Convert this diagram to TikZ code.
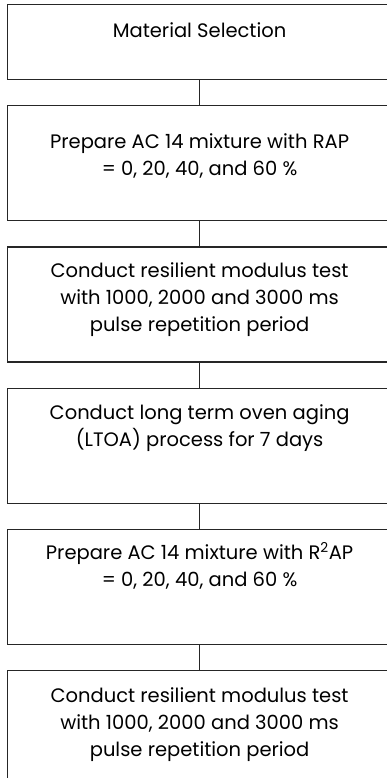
\documentclass[tikz,border=0pt]{standalone}
\usepackage{fontspec}
\setmainfont{Poppins}
\usetikzlibrary{positioning}
% box body: height, gap above the text, text
\newcommand{\boxtext}[3]{\parbox[c][#1][t]{384pt}{\centering\vspace{#2}#3}}

\begin{document}
\begin{tikzpicture}[
  x=1pt, y=1pt,
  node distance=25pt,
  box/.style={draw=black!85, line width=1.2pt, inner sep=0pt, font=\fontsize{19.5}{27}\selectfont},
  link/.style={draw=black!85, line width=1.2pt}]
  \useasboundingbox (0,0) rectangle (387,-778);
  \clip (0,0) rectangle (387,-778);
  \node[box, anchor=north west] (sel) at (7,-4) {\boxtext{75pt}{18pt}{Material Selection}};
  \node[box, below=of sel] (rap) {\boxtext{115pt}{28pt}{Prepare AC 14 mixture with RAP\\= 0, 20, 40, and 60 \%}};
  \node[box, below=of rap] (mr1) {\boxtext{115pt}{16pt}{Conduct resilient modulus test\\with 1000, 2000 and 3000 ms\\pulse repetition period}};
  \node[box, below=of mr1] (ltoa) {\boxtext{115pt}{16pt}{Conduct long term oven aging\\(LTOA) process for 7 days}};
  \node[box, below=of ltoa] (rrap) {\boxtext{115pt}{13pt}{Prepare AC 14 mixture with R\textsuperscript{2}AP\\= 0, 20, 40, and 60 \%}};
  \node[box, below=of rrap] (mr2) {\boxtext{115pt}{17pt}{Conduct resilient modulus test\\with 1000, 2000 and 3000 ms\\pulse repetition period}};
  \foreach \a/\b in {sel/rap,rap/mr1,mr1/ltoa,ltoa/rrap,rrap/mr2}
    \draw[link] (\a) -- (\b);
\end{tikzpicture}
\end{document}
